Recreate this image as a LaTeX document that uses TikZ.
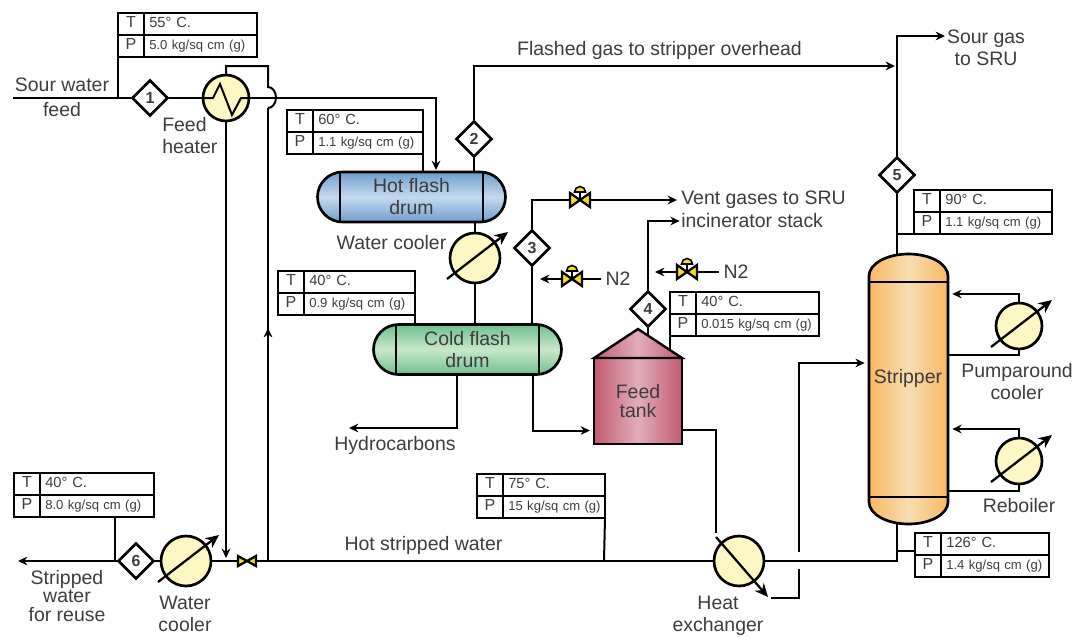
\documentclass[tikz,border=0pt]{standalone}
\usepackage{fontspec}
\setmainfont{Liberation Sans}
\usepackage{xcolor}
\usetikzlibrary{arrows.meta,positioning,calc,shapes.geometric,shapes.misc}
\definecolor{inktext}{RGB}{62,60,60}
\definecolor{coolerfill}{RGB}{253,247,195}
\definecolor{valvefill}{RGB}{245,225,20}
\definecolor{hotblue}{RGB}{112,158,205}
\definecolor{hotlight}{RGB}{196,218,236}
\definecolor{coldgreen}{RGB}{110,192,142}
\definecolor{coldlight}{RGB}{200,232,200}
\definecolor{tankred}{RGB}{194,92,112}
\definecolor{tanklight}{RGB}{226,172,186}
\definecolor{stripperorange}{RGB}{250,184,98}
\definecolor{stripperlight}{RGB}{245,222,178}

\newcommand{\tpbox}[6]{%
  \node[tpcell, inner xsep=3pt, text width=13.5pt, align=center, anchor=north west, font=\fontsize{12}{14}\selectfont] (#1tl) at (#2,#3) {T};
  \node[tpcell, inner xsep=3pt, text width=13.5pt, align=center, below=0pt of #1tl, font=\fontsize{12}{14}\selectfont] (#1pl) {P};
  \node[tpcell, text width=#4pt, right=0pt of #1tl, font=\fontsize{11}{13}\selectfont] (#1tv) {\mbox{#5}};
  \node[tpcell, text width=#4pt, right=0pt of #1pl, font=\fontsize{9.8}{12}\selectfont] (#1pv) {\mbox{#6}};
}

\begin{document}
\begin{tikzpicture}[
    x=0.75pt, y=-0.75pt,
    lbl/.style={inner sep=0pt, align=center, text=inktext, font=\fontsize{14.6}{16.5}\selectfont},
    tpcell/.style={draw, line width=2pt, outer sep=0pt, inner xsep=4pt, inner ysep=0pt, minimum height=16.5pt, text height=8pt, text depth=2.2pt, text=inktext, align=left},
    tag/.style={draw, diamond, aspect=1, line width=2pt, fill=white, inner sep=0pt, minimum size=27pt, font=\fontsize{12}{14}\bfseries\selectfont, text=inktext},
    cooler/.style={draw, circle, line width=2pt, fill=coolerfill, inner sep=0pt, outer sep=0pt},
    drum/.style={draw, rounded rectangle, line width=2pt, outer sep=0pt, inner sep=0pt, minimum width=141pt, minimum height=37.5pt, lbl},
    pipe/.style={line width=1.5pt},
    arr/.style={pipe, -{Stealth[length=7pt,width=6.5pt]}},
    xarr/.style={line width=1.7pt, -{Stealth[length=10pt,width=9pt]}},
    divider/.style={line width=2.2pt},
    gvalve/.pic={
      \draw[line width=1.3pt] (0,0) -- (0,-8);
      \draw[line width=1.2pt, fill=valvefill] (-5.5,-8) arc (180:360:5.5) -- cycle;
      \draw[line width=1.7pt, fill=valvefill] (-10,-7) -- (0,0) -- (-10,7) -- cycle;
      \draw[line width=1.7pt, fill=valvefill] (10,-7) -- (0,0) -- (10,7) -- cycle;
    },
    bvalve/.pic={
      \draw[line width=1.7pt, fill=valvefill] (-9,-5) -- (0,0) -- (-9,5) -- cycle;
      \draw[line width=1.7pt, fill=valvefill] (9,-5) -- (0,0) -- (9,5) -- cycle;
    }
]
\useasboundingbox (0,0) rectangle (1074,636);

\node[drum, top color=hotblue, bottom color=hotblue, middle color=hotlight] (hotdrum) at (411.5,197) {Hot flash\\drum};
\node[drum, top color=coldgreen, bottom color=coldgreen, middle color=coldlight] (colddrum) at (467.5,349.5) {Cold flash\\drum};
\draw[divider] (340,172) -- (340,222);
\draw[divider] (483,172) -- (483,222);
\draw[divider] (396,325) -- (396,374);
\draw[divider] (539,325) -- (539,374);

\shade[draw, line width=2pt, left color=stripperorange, right color=stripperorange, middle color=stripperlight]
    (869,276) arc (180:360:39.5 and 22) -- (948,502) arc (0:180:39.5 and 22) -- cycle;
\draw[divider] (869,282) -- (948,282);
\draw[divider] (869,497) -- (948,497);
\node[lbl, minimum width=59.25pt, minimum height=202.5pt] (stripper) at (908.5,389) {};
\node[lbl] (stripperlbl) at (908,378) {Stripper};

\node[draw, line width=2.2pt, outer sep=0pt, inner sep=0pt, minimum width=66pt, minimum height=64.5pt, left color=tankred, right color=tankred, middle color=tanklight, lbl, font=\fontsize{14.6}{14.8}\selectfont] (tank) at (638,401) {Feed\\tank};
\shade[draw, line width=1.8pt, left color=tankred, right color=tankred, middle color=tanklight] (tank.north west) -- (638,329) -- (tank.north east) -- cycle;

\node[tag] (d1) at (150,98) {1};
\node[tag] (d2) at (474,139) {2};
\node[tag] (d3) at (532,248) {3};
\node[tag] (d4) at (648,309) {4};
\node[tag] (d5) at (897,175) {5};
\node[tag] (d6) at (136,561) {6};

\node[cooler, minimum size=34.5pt] (feedheater) at (226,98) {};
\node[cooler, minimum size=37.5pt] (wc2) at (475,258) {};
\node[cooler, minimum size=34.5pt] (pumpcooler) at (1019,326) {};
\node[cooler, minimum size=34.5pt] (reboiler) at (1019,461) {};
\node[cooler, minimum size=37.5pt] (wc6) at (186,561) {};
\node[cooler, minimum size=37.5pt] (heatex) at (739,561) {};

\tpbox{tpa}{118}{13}{76.75}{55° C.}{5.0 kg/sq cm (g)}
\tpbox{tpb}{287}{110}{74.5}{60° C.}{1.1 kg/sq cm (g)}
\tpbox{tpc}{278}{271}{75.25}{40° C.}{0.9 kg/sq cm (g)}
\tpbox{tpd}{670}{292}{84.25}{40° C.}{0.015 kg/sq cm (g)}
\tpbox{tpe}{914}{190}{76}{90° C.}{1.1 kg/sq cm (g)}
\tpbox{tpf}{915}{533}{73}{126° C.}{1.4 kg/sq cm (g)}
\tpbox{tpg}{477}{474}{68.5}{75° C.}{15 kg/sq cm (g)}
\tpbox{tph}{14}{473}{77.5}{40° C.}{8.0 kg/sq cm (g)}

\node[lbl] (sourfeed) at (62,85) {Sour water};
\node[lbl] (feedlbl) at (62,110) {feed};
\node[lbl, align=left, anchor=west] (heaterlbl) at (162,136) {Feed\\heater};
\node[lbl] (flashedlbl) at (659.5,50) {Flashed gas to stripper overhead};
\node[lbl] (sourgas) at (986,48) {Sour gas\\to SRU};
\node[lbl, anchor=west] (ventlbl) at (681,200) {Vent gases to SRU};
\node[lbl, anchor=west] (inciner) at (681,221) {incinerator stack};
\node[lbl] (coolerlbl) at (391.5,243) {Water cooler};
\node[lbl] (hydro) at (395,445) {Hydrocarbons};
\node[lbl] (pumplbl) at (1017,382) {Pumparound\\cooler};
\node[lbl] (reblbl) at (1019,506) {Reboiler};
\node[lbl] (hotwater) at (423.5,545) {Hot stripped water};
\node[lbl, font=\fontsize{14.6}{14}\selectfont] (stripped) at (67,596) {Stripped\\water\\for reuse};
\node[lbl] (wc6lbl) at (185,614) {Water\\cooler};
\node[lbl] (heatlbl) at (718,616) {Heat\\exchanger};
\node[lbl] (nleft) at (618,279) {N2};
\node[lbl] (nright) at (736,272) {N2};

\coordinate (hydroend) at (349,428);
\coordinate (feedstart) at (13,98);
\coordinate (reuseend) at (18,561);
\coordinate (sourend) at (945,36);
\coordinate (va) at (580,200);
\coordinate (vb) at (572,279);
\coordinate (vc) at (687,272);
\coordinate (vd) at (247,561);
\coordinate (heatin) at (716,533);
\coordinate (heatout) at (771,598);
\coordinate (gapa) at (799,569);
\coordinate (gapb) at (799,552);
\coordinate (hopa) at (268,87);
\coordinate (hopb) at (268,108);
\coordinate (flatmid) at (268,561);

\draw[pipe] (feedstart) -- (d1.west);
\draw[pipe] (d1.east) -- (feedheater.west);
\draw[arr] (feedheater.east) -- (436,98) -- (436,170);
\draw[pipe] (tpapl.south west) -- (118,98);
\draw[pipe] (feedheater.north) -- (226,66) -- (268,66) -- (hopa) arc (-90:90:8 and 10.5);
\draw[pipe] (hopb) -- (flatmid);
\draw[arr] (flatmid) -- (268,328);
\draw[arr] (feedheater.south) -- (226,558);
\draw[pipe] (feedheater.west) -- ++(10,0) -- ++(7,-14) -- ++(12,31) -- ++(9,-17) -- (feedheater.east);

\draw[pipe] (tpbpv.south east) -- (tpbpv.south east |- hotdrum.north);
\draw[pipe] (d2.south) -- (d2 |- hotdrum.north);
\draw[arr] (d2.north) |- (895,66);
\draw[pipe] (wc2 |- hotdrum.south) -- (wc2.north);
\draw[pipe] (wc2.south) -- (wc2 |- colddrum.north);
\draw[pipe] (tpcpv.south east) -- (tpcpv.south east |- colddrum.north);
\draw[pipe] (d3 |- colddrum.north) -- (d3.south);
\draw[arr, shorten >=3pt] (d3.north) |- (ventlbl.west);
\draw[arr, shorten >=3pt] ([xshift=-3pt]nleft.west) -- (536,279);
\draw[arr, shorten >=3pt] ([xshift=-3pt]nright.west) -- (651,272);
\draw[arr] (457,0 |- colddrum.south) |- (hydroend);
\draw[arr, shorten >=3pt] (533,0 |- colddrum.south) |- (tank.west |- 0,430.5);

\draw[arr, shorten >=1pt] (d4.north) |- (inciner.west);
\draw[pipe] (d4.south) -- (648,335.5);
\draw[pipe] (tpdpl.south west) -- (670,351);
\draw[pipe] (tank.east |- 0,430) -- (716,430) -- (heatin);
\draw[pipe] (heatout) -- (799,598) -- (gapa);
\draw[arr, shorten >=3pt] (gapb) |- (stripper.west |- 0,363);

\draw[arr] (d5.north) |- (sourend);
\draw[pipe] (d5.south) -- (d5 |- stripper.north);
\draw[pipe] (tpepl.south west) -- (897,234);
\draw[pipe] (d5 |- stripper.south) -- (897,561) -- (heatex.east);
\draw[pipe] (tpftl.south west) ++(0,-4) -- (897,551);
\draw[pipe] (heatex.west) -- (vd);
\draw[pipe] (vd) -- (wc6.east);
\draw[pipe] (wc6.west) -- (d6.east);
\draw[arr] (d6.west) -- (reuseend);
\draw[pipe] (115,0 |- tphpv.south) -- (115,561);
\draw[pipe] (tpgpv.south east) -- (604,561);

\draw[arr, shorten >=3pt] (pumpcooler.north) |- (stripper.east |- 0,294);
\draw[pipe] (pumpcooler.south) |- (stripper.east |- 0,354.5);
\draw[arr, shorten >=3pt] (reboiler.north) |- (stripper.east |- 0,429);
\draw[pipe] (reboiler.south) |- (stripper.east |- 0,491);

\foreach \n in {wc2,wc6,pumpcooler,reboiler} {
  \draw[xarr] ([shift={(-28,21)}]\n.center) -- ([shift={(33,-26)}]\n.center);
}
\draw[xarr] ([shift={(-23,-24)}]heatex.center) -- ([shift={(29,36)}]heatex.center);

\pic at (va) {gvalve};
\pic at (vb) {gvalve};
\pic at (vc) {gvalve};
\pic at (vd) {bvalve};
\end{tikzpicture}
\end{document}
